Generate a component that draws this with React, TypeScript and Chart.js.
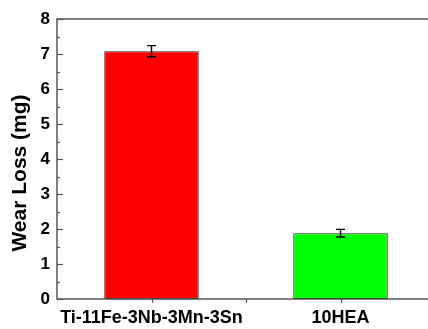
import React, { useEffect, useRef } from "react";
import { Chart, registerables } from "chart.js";

Chart.register(...registerables);

const categories = ["Ti-11Fe-3Nb-3Mn-3Sn", "10HEA"];
const wearLoss = [7.08, 1.88];
const wearError = [0.16, 0.11];
const barColors = ["#ff0000", "#00ff00"];
const yTitle = "Wear Loss (mg)";
const yMin = 0;
const yMax = 8;
const yStep = 1;

const FONT = "'Liberation Sans', Arial, sans-serif";

const decorPlugin = {
  id: "decor",
  afterDatasetsDraw(chart: any) {
    const { ctx, chartArea, scales } = chart;
    const { left, top, right, bottom } = chartArea;
    const x = scales.x;
    const y = scales.y;
    ctx.save();
    // error bars
    const meta = chart.getDatasetMeta(0);
    ctx.strokeStyle = "#000";
    ctx.lineWidth = 1.4;
    meta.data.forEach((el: any, i: number) => {
      const v = wearLoss[i];
      const e = wearError[i];
      const yt = y.getPixelForValue(v + e);
      const yb = y.getPixelForValue(v - e);
      const cx = el.x;
      ctx.beginPath();
      ctx.moveTo(cx, yt);
      ctx.lineTo(cx, yb);
      ctx.moveTo(cx - 4.5, yt);
      ctx.lineTo(cx + 4.5, yt);
      ctx.moveTo(cx - 4.5, yb);
      ctx.lineTo(cx + 4.5, yb);
      ctx.stroke();
    });
    // frame
    ctx.strokeStyle = "#555";
    ctx.lineWidth = 1.5;
    ctx.strokeRect(left, top, right - left, bottom - top);
    // y ticks (inward), major and minor
    ctx.lineWidth = 1.2;
    for (let v = yMin; v <= yMax + 1e-9; v += yStep / 2) {
      const py = Math.round(y.getPixelForValue(v)) + 0.5;
      const major = Math.abs(v - Math.round(v)) < 1e-9;
      const len = major ? 6 : 3;
      ctx.beginPath();
      ctx.moveTo(left, py);
      ctx.lineTo(left + len, py);
      ctx.stroke();
    }
    // x ticks (outward)
    const n = categories.length;
    for (let i = 0; i < n; i++) {
      const px = Math.round(x.getPixelForValue(i)) + 0.5;
      ctx.beginPath();
      ctx.moveTo(px, bottom);
      ctx.lineTo(px, bottom + 4);
      ctx.stroke();
      if (i < n - 1) {
        const mx = Math.round((x.getPixelForValue(i) + x.getPixelForValue(i + 1)) / 2) + 0.5;
        ctx.beginPath();
        ctx.moveTo(mx, bottom);
        ctx.lineTo(mx, bottom + 4);
        ctx.stroke();
      }
    }
    // y title
    ctx.fillStyle = "#000";
    ctx.font = `bold 21px ${FONT}`;
    ctx.textAlign = "center";
    ctx.textBaseline = "alphabetic";
    ctx.translate(25.5, (top + bottom) / 2 + 14);
    ctx.rotate(-Math.PI / 2);
    ctx.fillText(yTitle, 0, 0);
    ctx.restore();
  },
};

export default function App() {
  const ref = useRef<HTMLCanvasElement | null>(null);
  useEffect(() => {
    if (!ref.current) return;
    const chart = new Chart(ref.current, {
      type: "bar",
      data: {
        labels: categories,
        datasets: [
          {
            data: wearLoss,
            backgroundColor: barColors,
            borderColor: "#222",
            borderWidth: 1,
            borderSkipped: false,
            barPercentage: 0.5,
            categoryPercentage: 1,
          },
        ],
      },
      options: {
        animation: false,
        responsive: false,
        layout: { padding: { top: 19, left: 0, right: 0, bottom: 0 } },
        plugins: { legend: { display: false }, tooltip: { enabled: false } },
        scales: {
          x: {
            type: "category",
            grid: { display: false, drawTicks: false },
            border: { display: false },
            ticks: {
              color: "#000",
              font: { family: FONT, size: 18, weight: "bold" },
              padding: 8,
              maxRotation: 0,
              autoSkip: false,
            },
            afterFit(s: any) {
              s.height = 30;
            },
          },
          y: {
            min: yMin,
            max: yMax,
            grid: { display: false, drawTicks: false },
            border: { display: false },
            ticks: {
              stepSize: yStep,
              color: "#000",
              font: { family: FONT, size: 17, weight: "bold" },
              padding: 7,
            },
            afterFit(s: any) {
              s.width = 57;
            },
          },
        },
      },
      plugins: [decorPlugin],
    });
    return () => chart.destroy();
  }, []);
  return (
    <div style={{ position: "fixed", left: 0, top: 0, width: 428, height: 329, overflow: "hidden", background: "#fff" }}>
      <canvas ref={ref} width={435} height={329} style={{ display: "block" }} />
    </div>
  );
}
